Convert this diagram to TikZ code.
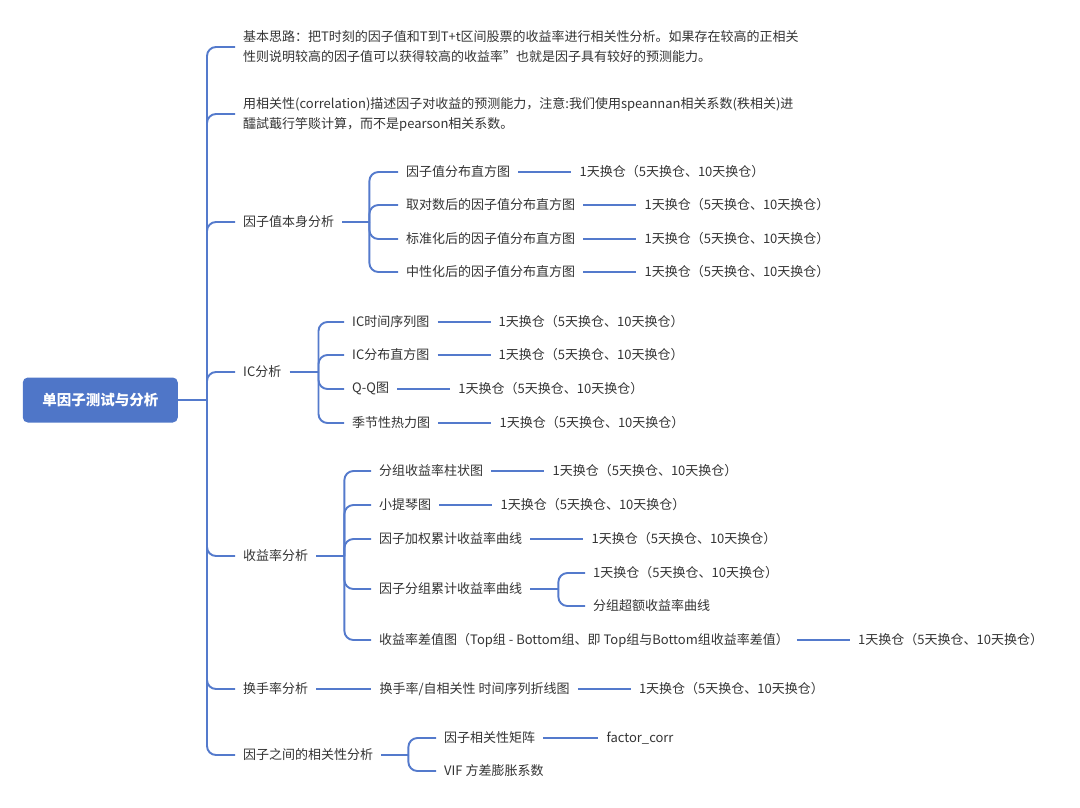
\documentclass[tikz,border=0pt]{standalone}
\usepackage{fontspec}
\setmainfont{Noto Sans CJK SC}
\usetikzlibrary{positioning}
\definecolor{mapblue}{RGB}{84,122,204}
\definecolor{rootblue}{RGB}{79,118,200}
\definecolor{txtgray}{RGB}{51,51,51}
\newcommand{\huancang}{1天换仓（5天换仓、10天换仓）}
\tikzset{
  topic/.style={anchor=west,inner xsep=8pt,inner ysep=2pt,text=txtgray,font=\fontsize{13pt}{20pt}\selectfont},
  rootbox/.style={fill=rootblue,rounded corners=5pt,minimum width=155pt,minimum height=45pt,text=white,font=\fontsize{14.5pt}{18pt}\selectfont\bfseries},
  link/.style={draw=mapblue,line width=1.9pt,rounded corners=9pt},
}
\begin{document}
\begin{tikzpicture}[x=1pt,y=-1pt]
\useasboundingbox (0,0) rectangle (1080,807);
\node[rootbox] (root) at (100.3,400) {单因子测试与分析};
\coordinate[right=29pt of root] (j0);
\draw[link] (root) -- (j0);
% first level
\node[topic,align=left] (idea) at (235,47) {基本思路：把T时刻的因子值和T到T+t区间股票的收益率进行相关性分析。如果存在较高的正相关\\性则说明较高的因子值可以获得较高的收益率\symbol{34}也就是因子具有较好的预测能力。};
\node[topic,align=left] (corr) at (235,114) {用相关性(correlation)描述因子对收益的预测能力，注意:我们使用speannan相关系数(秩相关)进\\醽試蕺行竽赕计算，而不是pearson相关系数。};
\node[topic] (self) at (235,222) {因子值本身分析};
\node[topic] (ic) at (235,372) {IC分析};
\node[topic] (ret) at (235,556) {收益率分析};
\node[topic] (turn) at (235,689) {换手率分析};
\node[topic] (between) at (235,755) {因子之间的相关性分析};
\foreach \n in {idea,corr,self,ic,ret,turn,between} {\draw[link] (j0) |- (\n.west);}
% factor values
\coordinate[right=27pt of self] (j3);
\node[topic] (hist) at (398,172) {因子值分布直方图};
\node[topic] (log) at (398,205) {取对数后的因子值分布直方图};
\node[topic] (std) at (398,239) {标准化后的因子值分布直方图};
\node[topic] (neu) at (398,272) {中性化后的因子值分布直方图};
\draw[link] (self) -- (j3);
\foreach \n in {hist,log,std,neu} {
  \draw[link] (j3) |- (\n.west);
  \node[topic,right=53pt of \n] (\n-d) {\huancang};
  \draw[link] (\n) -- (\n-d);
}
% IC
\coordinate[right=29pt of ic] (j4);
\node[topic] (icts) at (344,322) {IC时间序列图};
\node[topic] (icdist) at (344,355) {IC分布直方图};
\node[topic] (qq) at (344,389) {Q-Q图};
\node[topic] (season) at (344,423) {季节性热力图};
\draw[link] (ic) -- (j4);
\foreach \n in {icts,icdist,qq,season} {
  \draw[link] (j4) |- (\n.west);
  \node[topic,right=53pt of \n] (\n-d) {\huancang};
  \draw[link] (\n) -- (\n-d);
}
% returns
\coordinate[right=28pt of ret] (j5);
\node[topic] (bar) at (371,471) {分组收益率柱状图};
\node[topic] (violin) at (371,505) {小提琴图};
\node[topic] (wcum) at (371,539) {因子加权累计收益率曲线};
\node[topic] (gcum) at (371,589) {因子分组累计收益率曲线};
\node[topic] (diff) at (371,640) {收益率差值图（Top组 - Bottom组、即 Top组与Bottom组收益率差值）};
\draw[link] (ret) -- (j5);
\foreach \n in {bar,violin,wcum,gcum,diff} {\draw[link] (j5) |- (\n.west);}
\foreach \n in {bar,violin,wcum,diff} {
  \node[topic,right=53pt of \n] (\n-d) {\huancang};
  \draw[link] (\n) -- (\n-d);
}
\coordinate[right=28pt of gcum] (j54);
\node[topic] (gcum-d) at (585,573) {\huancang};
\node[topic] (excess) at (585,606) {分组超额收益率曲线};
\draw[link] (gcum) -- (j54);
\draw[link] (j54) |- (gcum-d.west);
\draw[link] (j54) |- (excess.west);
% turnover
\node[topic,right=55pt of turn] (tline) {换手率/自相关性 时间序列折线图};
\node[topic,right=53pt of tline] (tline-d) {\huancang};
\draw[link] (turn) -- (tline);
\draw[link] (tline) -- (tline-d);
% correlation between factors
\coordinate[right=27pt of between] (j7);
\node[topic] (cmat) at (436,738) {因子相关性矩阵};
\node[topic] (vif) at (436,771) {VIF 方差膨胀系数};
\node[topic,right=55pt of cmat] (cmat-d) {factor\_corr};
\draw[link] (between) -- (j7);
\draw[link] (j7) |- (cmat.west);
\draw[link] (j7) |- (vif.west);
\draw[link] (cmat) -- (cmat-d);
\end{tikzpicture}
\end{document}
